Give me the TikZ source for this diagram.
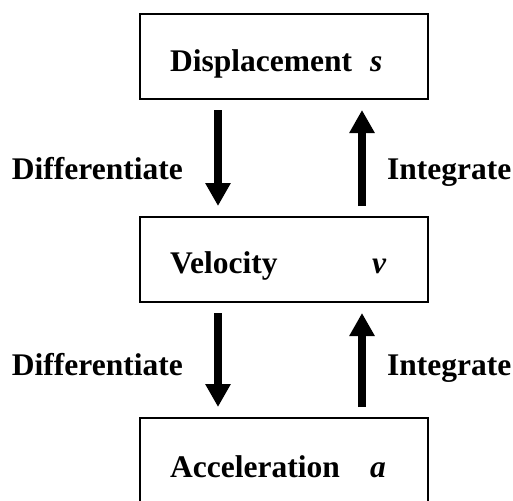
\documentclass[tikz,border=0pt]{standalone}
\usepackage{fontspec}
\setmainfont{Liberation Serif}
\usetikzlibrary{arrows.meta}
\begin{document}
\begin{tikzpicture}[x=1pt,y=-1pt,
  box/.style={draw, line width=2pt, minimum width=288pt, minimum height=85pt, inner sep=0pt, outer sep=0pt},
  lbl/.style={font=\fontsize{31.5}{36}\selectfont\bfseries, inner sep=0pt, anchor=base west},
  lblr/.style={lbl, anchor=base east},
  arr/.style={line width=7.5pt, -{Triangle[length=23pt,width=24pt]}, shorten <=11pt, shorten >=11pt}]
\useasboundingbox (0,0) rectangle (513,500);
\node[box] (d) at (284,56.5) {};
\node[box] (v) at (284,259.5) {};
\node[box] (a) at (284,460.5) {};
\node[lbl] (dt) at (170,72) {Displacement};
\node[lbl] (ds) at (370,72) {\textit{s}};
\node[lbl] (vt) at (170,273) {Velocity};
\node[lbl] (vs) at (372,273) {\textit{v}};
\node[lbl] (at) at (170,477) {Acceleration};
\node[lbl] (as) at (370,477) {\textit{a}};
\node[lblr] (d1) at (183,179) {Differentiate};
\node[lbl] (i1) at (387,179) {Integrate};
\node[lblr] (d2) at (183,375) {Differentiate};
\node[lbl] (i2) at (387,375) {Integrate};
\draw[arr] ([xshift=-66pt]d.south) -- ([xshift=-66pt]v.north);
\draw[arr] ([xshift=78pt]v.north) -- ([xshift=78pt]d.south);
\draw[arr] ([xshift=-66pt]v.south) -- ([xshift=-66pt]a.north);
\draw[arr] ([xshift=78pt]a.north) -- ([xshift=78pt]v.south);
\end{tikzpicture}
\end{document}
